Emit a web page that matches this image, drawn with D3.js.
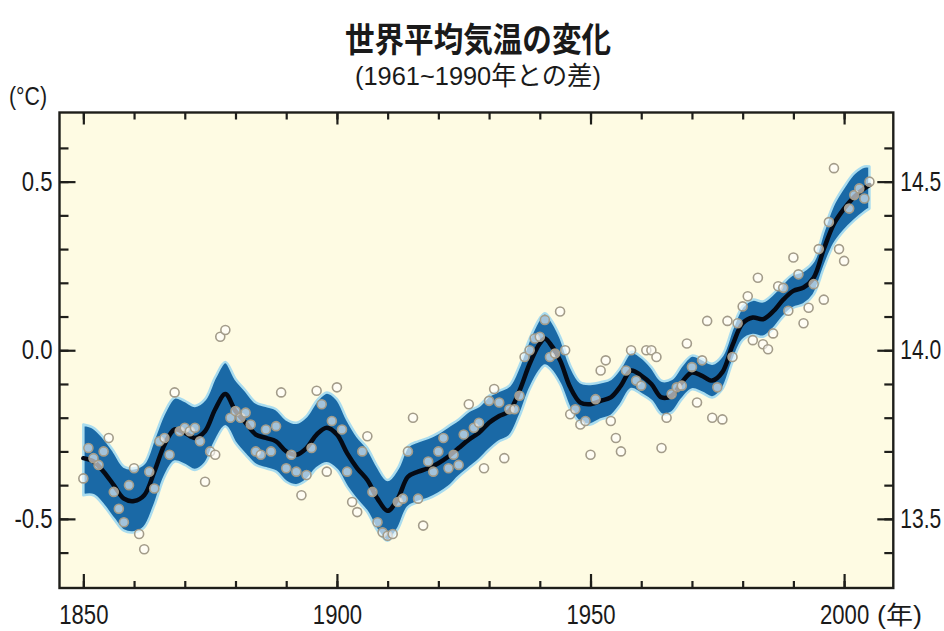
<!DOCTYPE html>
<html>
<head>
<meta charset="utf-8">
<script src="https://cdn.jsdelivr.net/npm/d3@7"></script>
<style>
  body { margin: 0; background: #ffffff; }
</style>
</head>
<body>
<svg id="chart" width="944" height="631"></svg>
<script>
// Annual global mean temperature anomaly (°C, relative to 1961–1990), 1850–2005
const firstYear = 1850;
const anomalies = [
  -0.38, -0.29, -0.32, -0.34, -0.30, -0.26, -0.42, -0.47, -0.51, -0.40,
  -0.35, -0.545, -0.59, -0.36, -0.41, -0.27, -0.26, -0.31, -0.125, -0.24,
  -0.23, -0.24, -0.23, -0.27, -0.39, -0.30, -0.31, 0.04, 0.06, -0.20,
  -0.18, -0.20, -0.185, -0.22, -0.30, -0.31, -0.235, -0.30, -0.225, -0.125,
  -0.35, -0.31, -0.36, -0.43, -0.37, -0.29, -0.12, -0.16, -0.36, -0.21,
  -0.11, -0.235, -0.36, -0.45, -0.48, -0.30, -0.255, -0.42, -0.51, -0.54,
  -0.55, -0.545, -0.45, -0.44, -0.30, -0.20, -0.44, -0.52, -0.33, -0.36,
  -0.30, -0.26, -0.35, -0.31, -0.34, -0.25, -0.16, -0.23, -0.215, -0.35,
  -0.15, -0.115, -0.155, -0.32, -0.175, -0.175, -0.135, -0.02, 0.00, 0.035,
  0.04, 0.09, -0.02, -0.01, 0.115, 0.00, -0.19, -0.175, -0.22, -0.21,
  -0.31, -0.145, -0.06, -0.03, -0.21, -0.26, -0.30, -0.06, 0.00, -0.09,
  -0.105, 0.00, 0.00, -0.02, -0.29, -0.20, -0.13, -0.11, -0.105, 0.02,
  -0.05, -0.155, -0.03, 0.087, -0.20, -0.11, -0.205, 0.087, -0.02, 0.08,
  0.13, 0.16, 0.03, 0.215, 0.018, 0.003, 0.05, 0.19, 0.185, 0.117,
  0.275, 0.225, 0.08, 0.126, 0.196, 0.30, 0.15, 0.38, 0.54, 0.30,
  0.265, 0.42, 0.46, 0.48, 0.45, 0.50
];

// Smoothed decadal curve with its uncertainty range
const smoothYears = [
  1850, 1852, 1854, 1856, 1858, 1860, 1862, 1864, 1866, 1868,
  1870, 1872, 1874, 1876, 1878, 1880, 1882, 1884, 1886, 1888,
  1890, 1892, 1894, 1896, 1898, 1900, 1902, 1904, 1906, 1908,
  1910, 1912, 1914, 1916, 1918, 1920, 1922, 1924, 1926, 1928,
  1930, 1932, 1934, 1936, 1938, 1940, 1941, 1942, 1944, 1946,
  1948, 1950, 1952, 1954, 1956, 1958, 1960, 1962, 1964, 1966,
  1968, 1970, 1972, 1974, 1976, 1978, 1980, 1982, 1984, 1986,
  1988, 1990, 1992, 1994, 1996, 1998, 2000, 2002, 2004, 2005
];
const smoothMid = [
  -0.32, -0.33, -0.36, -0.40, -0.44, -0.447, -0.43, -0.36, -0.28, -0.235,
  -0.245, -0.26, -0.24, -0.175, -0.13, -0.18, -0.215, -0.25, -0.26, -0.27,
  -0.30, -0.31, -0.29, -0.25, -0.23, -0.25, -0.305, -0.35, -0.385, -0.44,
  -0.476, -0.44, -0.375, -0.36, -0.35, -0.335, -0.315, -0.29, -0.265, -0.245,
  -0.215, -0.195, -0.18, -0.12, -0.04, 0.02, 0.035, 0.02, -0.03, -0.11,
  -0.155, -0.16, -0.15, -0.14, -0.105, -0.06, -0.075, -0.10, -0.14, -0.135,
  -0.095, -0.066, -0.076, -0.09, -0.065, 0.015, 0.08, 0.097, 0.092, 0.115,
  0.15, 0.176, 0.186, 0.215, 0.30, 0.375, 0.42, 0.455, 0.48, 0.49
];
const smoothLow = [
  -0.43, -0.43, -0.46, -0.50, -0.535, -0.54, -0.525, -0.46, -0.375, -0.33,
  -0.34, -0.355, -0.335, -0.27, -0.225, -0.275, -0.31, -0.34, -0.35, -0.36,
  -0.39, -0.40, -0.385, -0.35, -0.335, -0.355, -0.405, -0.445, -0.48, -0.535,
  -0.565, -0.53, -0.465, -0.45, -0.44, -0.425, -0.405, -0.375, -0.35, -0.325,
  -0.295, -0.27, -0.255, -0.195, -0.115, -0.06, -0.045, -0.055, -0.10, -0.175,
  -0.215, -0.22, -0.205, -0.195, -0.16, -0.115, -0.13, -0.15, -0.19, -0.185,
  -0.145, -0.116, -0.126, -0.14, -0.115, -0.035, 0.03, 0.045, 0.04, 0.063,
  0.10, 0.126, 0.136, 0.165, 0.245, 0.315, 0.355, 0.385, 0.41, 0.42
];
const smoothHigh = [
  -0.22, -0.23, -0.26, -0.30, -0.345, -0.35, -0.335, -0.26, -0.185, -0.14,
  -0.15, -0.165, -0.145, -0.08, -0.035, -0.085, -0.12, -0.155, -0.165, -0.175,
  -0.205, -0.215, -0.195, -0.15, -0.125, -0.145, -0.205, -0.255, -0.29, -0.345,
  -0.385, -0.35, -0.285, -0.27, -0.26, -0.245, -0.225, -0.205, -0.18, -0.165,
  -0.135, -0.12, -0.105, -0.045, 0.035, 0.095, 0.11, 0.095, 0.04, -0.045,
  -0.095, -0.10, -0.095, -0.085, -0.05, -0.005, -0.02, -0.05, -0.09, -0.085,
  -0.045, -0.016, -0.026, -0.04, -0.015, 0.065, 0.13, 0.15, 0.145, 0.167,
  0.20, 0.226, 0.236, 0.265, 0.355, 0.435, 0.485, 0.525, 0.545, 0.545
];

// Axis ticks and labels
const xMinorTicks = [1850, 1860, 1870, 1880, 1890, 1900, 1910, 1920, 1930, 1940, 1950, 1960, 1970, 1980, 1990, 2000];
const xMajorTicks = [1850, 1900, 1950, 2000];
const yMinorTicks = [-0.6, -0.5, -0.4, -0.3, -0.2, -0.1, 0.0, 0.1, 0.2, 0.3, 0.4, 0.5, 0.6];
const yMajorTicks = [0.5, 0.0, -0.5];
const leftLabels = ["0.5", "0.0", "-0.5"];
const rightLabels = ["14.5", "14.0", "13.5"];

const titleText = "世界平均気温の変化";
const subtitleText = "(1961~1990年との差)";
const unitText = "(°C)";
const yearUnitText = "(年)";

const latinFont = "'Liberation Sans', Arial, sans-serif";
const cjkFont = "'Noto Sans CJK JP', 'Noto Sans CJK SC', sans-serif";

// Squeeze a text horizontally about its anchor point
function condense(sel, factor) {
  sel.each(function () {
    const t = d3.select(this);
    const x0 = +t.attr("x") || 0;
    t.attr("transform", `translate(${x0 * (1 - factor)},0) scale(${factor},1)`);
  });
}

const svg = d3.select("#chart");

const plot = { left: 59.5, right: 893.3, top: 112.5, bottom: 588 };

const x = d3.scaleLinear().domain([1845.3, 2009.7]).range([plot.left, plot.right]);
const y = d3.scaleLinear().domain([-0.705, 0.705]).range([plot.bottom, plot.top]);

// Plot background
svg.append("rect")
  .attr("x", plot.left).attr("y", plot.top)
  .attr("width", plot.right - plot.left).attr("height", plot.bottom - plot.top)
  .attr("fill", "#fefbe3");

svg.append("clipPath").attr("id", "plotClip")
  .append("rect")
  .attr("x", plot.left).attr("y", plot.top)
  .attr("width", plot.right - plot.left).attr("height", plot.bottom - plot.top);

const g = svg.append("g").attr("clip-path", "url(#plotClip)");

const smooth = smoothYears.map((yr, i) => ({ yr, mid: smoothMid[i], lo: smoothLow[i], hi: smoothHigh[i] }));

// Uncertainty band
const band = d3.area()
  .x(d => x(d.yr))
  .y0(d => y(d.lo))
  .y1(d => y(d.hi))
  .curve(d3.curveCatmullRom.alpha(0.5));

g.append("path")
  .datum(smooth)
  .attr("d", band)
  .attr("fill", "#1a69a6")
  .attr("stroke", "#a9dcef")
  .attr("stroke-width", 2.5)
  .attr("stroke-linejoin", "round");

// Smoothed curve
const line = d3.line()
  .x(d => x(d.yr))
  .y(d => y(d.mid))
  .curve(d3.curveCatmullRom.alpha(0.5));

g.append("path")
  .datum(smooth)
  .attr("d", line)
  .attr("fill", "none")
  .attr("stroke", "#050a14")
  .attr("stroke-width", 4.5)
  .attr("stroke-linejoin", "round")
  .attr("stroke-linecap", "round");

// Annual values
g.selectAll("circle.annual")
  .data(anomalies.map((v, i) => ({ yr: firstYear + i, v })))
  .join("circle")
  .attr("class", "annual")
  .attr("cx", d => x(d.yr))
  .attr("cy", d => y(d.v))
  .attr("r", 4.5)
  .attr("fill", "rgba(255,255,255,0.6)")
  .attr("stroke", "#a39c8a")
  .attr("stroke-width", 1.6);

// Frame
svg.append("rect")
  .attr("x", plot.left).attr("y", plot.top)
  .attr("width", plot.right - plot.left).attr("height", plot.bottom - plot.top)
  .attr("fill", "none")
  .attr("stroke", "#1e1e1a")
  .attr("stroke-width", 2.4);

function styleAxis(sel, factor = 0.82) {
  sel.select(".domain").remove();
  sel.selectAll(".tick line").attr("stroke", "#1e1e1a").attr("stroke-width", 2.2);
  sel.selectAll(".tick text")
    .attr("fill", "#1a1a1a")
    .attr("font-family", latinFont)
    .attr("font-size", 27)
    .call(condense, factor);
}

// Bottom axis
svg.append("g").attr("transform", `translate(0,${plot.bottom})`)
  .call(d3.axisBottom(x).tickValues(xMinorTicks).tickSize(-7).tickFormat(""))
  .call(styleAxis);
svg.append("g").attr("transform", `translate(0,${plot.bottom})`)
  .call(d3.axisBottom(x).tickValues(xMajorTicks).tickSize(-14).tickPadding(17).tickFormat(d => String(d)))
  .call(styleAxis);

// Top axis
svg.append("g").attr("transform", `translate(0,${plot.top})`)
  .call(d3.axisTop(x).tickValues(xMinorTicks).tickSize(-7).tickFormat(""))
  .call(styleAxis);
svg.append("g").attr("transform", `translate(0,${plot.top})`)
  .call(d3.axisTop(x).tickValues(xMajorTicks).tickSize(-12).tickFormat(""))
  .call(styleAxis);

// Left axis
svg.append("g").attr("transform", `translate(${plot.left},0)`)
  .call(d3.axisLeft(y).tickValues(yMinorTicks).tickSize(-9).tickFormat(""))
  .call(styleAxis);
svg.append("g").attr("transform", `translate(${plot.left},0)`)
  .call(d3.axisLeft(y).tickValues(yMajorTicks).tickSize(-16).tickPadding(7)
    .tickFormat((d, i) => leftLabels[i]))
  .call(styleAxis);

// Right axis (absolute temperature)
svg.append("g").attr("transform", `translate(${plot.right},0)`)
  .call(d3.axisRight(y).tickValues(yMinorTicks).tickSize(-9).tickFormat(""))
  .call(styleAxis);
svg.append("g").attr("transform", `translate(${plot.right},0)`)
  .call(d3.axisRight(y).tickValues(yMajorTicks).tickSize(-16).tickPadding(7)
    .tickFormat((d, i) => rightLabels[i]))
  .call(styleAxis, 0.78);

// Titles and units
svg.append("text")
  .attr("x", 478).attr("y", 52)
  .attr("text-anchor", "middle")
  .attr("font-family", cjkFont)
  .attr("font-weight", "bold")
  .attr("font-size", 34)
  .attr("fill", "#1a1a1a")
  .text(titleText)
  .call(condense, 0.87);

svg.append("text")
  .attr("x", 478).attr("y", 85)
  .attr("text-anchor", "middle")
  .attr("font-family", latinFont + ", " + cjkFont)
  .attr("font-size", 26)
  .attr("fill", "#1a1a1a")
  .text(subtitleText)
  .each(function () {
    const w = this.getComputedTextLength();
    condense(d3.select(this), 246 / w);
  });

svg.append("text")
  .attr("x", 9).attr("y", 105)
  .attr("font-family", latinFont)
  .attr("font-size", 26)
  .attr("fill", "#1a1a1a")
  .text(unitText)
  .call(condense, 0.82);

svg.append("text")
  .attr("x", 877).attr("y", 624)
  .attr("font-family", latinFont + ", " + cjkFont)
  .attr("font-size", 25)
  .attr("fill", "#1a1a1a")
  .text(yearUnitText)
  .each(function () {
    const w = this.getComputedTextLength();
    condense(d3.select(this), 45 / w);
  });
</script>
</body>
</html>
